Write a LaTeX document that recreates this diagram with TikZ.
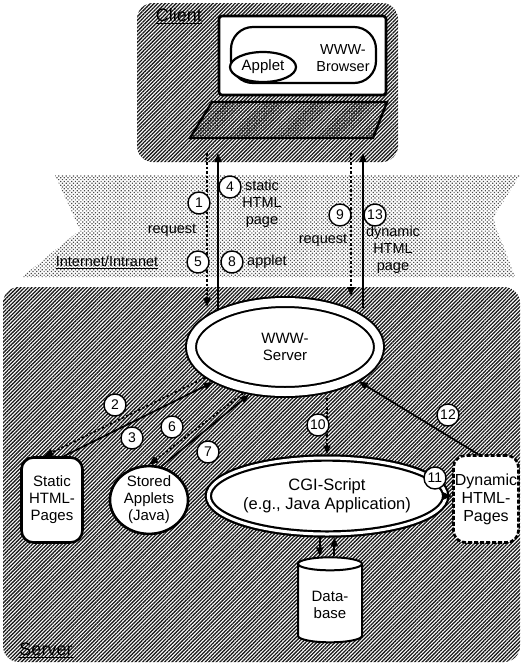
\documentclass[tikz,border=0pt]{standalone}
\usepackage{fontspec}
\setmainfont{Liberation Sans}
\usepackage{tikz}
\usetikzlibrary{
  positioning, shapes.geometric, shapes.misc, patterns.meta, arrows.meta, calc
}
\tikzset{
	hatchbg/.style={pattern={Lines[angle=45,distance=2.6pt,line width=1.3pt]}, pattern color=black!90}
}
\tikzset{
	netdots/.style={pattern={Dots[angle=45,distance=2.6pt,radius=0.85pt]}, pattern color=black!70}
}
\tikzset{
	keydots/.style={pattern={Dots[angle=45,distance=2.4pt,radius=0.75pt]}, pattern color=black!85}
}
\tikzset{
	boxtext/.style={font=\fontsize{15}{17}\selectfont, align=center}
}
\tikzset{
	lbltext/.style={font=\fontsize{14.5}{17}\selectfont, align=center, inner sep=1pt}
}
\tikzset{
	numcirc/.style={circle, draw, line width=1.4pt, fill=white, inner sep=0pt, minimum size=22pt, font=\fontsize{14}{14}\selectfont}
}
\tikzset{
	dblell/.style={ellipse, draw, line width=2pt, double=white, double distance=8pt, fill=white, outer sep=6pt, inner sep=0pt}
}
\tikzset{
	reqline/.style={line width=1.7pt, dash pattern=on 2.5pt off 2pt, -{Triangle[length=9pt,width=7pt]}}
}
\tikzset{
	resline/.style={line width=1.7pt, -{Triangle[length=9pt,width=7pt]}}
}
\newcommand{\uline}[1]{\underline{#1}}

\begin{document}
\begin{tikzpicture}[x=1pt,y=-1pt]
  \useasboundingbox (0,0) rectangle (523,665);
  % areas
  \fill[hatchbg, rounded corners=16pt] (137,3) rectangle (398,162);
  \fill[netdots] (55,175) -- (520,175) -- (493,218) -- (515,277) -- (22,277) -- (80,230) -- cycle;
  \fill[hatchbg, rounded corners=16pt] (3,287) rectangle (520,662);
  \node[lbltext, font=\fontsize{18}{18}\selectfont] (clientlbl) at (179,16) {\uline{Client}};
  \node[lbltext] (netlbl) at (107,262) {\uline{Internet/Intranet}};
  \node[lbltext, font=\fontsize{18}{18}\selectfont] (serverlbl) at (46,650) {\uline{Server}};

  % client machine
  \node[draw, line width=2.6pt, fill=white, rounded corners=3pt, minimum width=167pt, minimum height=79pt] (monitor) at (302.5,55.5) {};
  \node[draw, line width=2.2pt, fill=white, rounded corners=22pt, minimum width=145pt, minimum height=56pt] (browser) at (303.5,55) {};
  \node[ellipse, draw, line width=2.2pt, fill=white, inner sep=0pt, minimum width=66pt, minimum height=30pt, boxtext] (applet) at (263,67) {Applet};
  \node[boxtext, font=\fontsize{14.5}{17}\selectfont] (browserlbl) at (343,58) {WWW-\\Browser};
  \draw[line width=2.4pt, keydots] (212,102) -- (387,102) -- (373,138) -- (190,138) -- cycle;
  \coordinate (cl1) at (207,153);
  \coordinate (cl2) at (218,153);
  \coordinate (cl3) at (351,153);
  \coordinate (cl4) at (363,153);

  % server side
  \node[dblell, minimum width=188pt, minimum height=90pt, boxtext] (wwwserver) at (285,347) {WWW-\\Server};
  \node[boxtext, draw, line width=2.6pt, fill=white, rounded corners=12pt, minimum width=61pt, minimum height=85pt] (static) at (52,500) {Static\\HTML-\\Pages};
  \node[boxtext, ellipse, draw, line width=2.6pt, fill=white, inner sep=0pt, minimum width=78pt, minimum height=64pt] (applets) at (149,500) {Stored\\Applets\\(Java)};
  \node[dblell, line width=2.2pt, double distance=3pt, outer sep=3.5pt, minimum width=183pt, minimum height=76pt, boxtext, font=\fontsize{16.5}{19}\selectfont] (cgi) at (327,496) {CGI-Script\\(e.g., Java Application)};
  \node[boxtext, font=\fontsize{16}{18}\selectfont, draw, line width=2.6pt, dash pattern=on 4pt off 2pt, fill=white, rounded corners=12pt, inner sep=0pt, minimum width=65pt, minimum height=87pt] (dynamic) at (486,499) {Dynamic\\HTML-\\Pages};
  \node[boxtext, cylinder, shape border rotate=90, draw, line width=2pt, fill=white, aspect=0.3, minimum width=64pt, minimum height=85pt] (db) at (330,605) {Data-\\base};

  % client <-> server
  \draw[reqline] (cl1) -- (cl1 |- wwwserver.147);
  \draw[resline] (cl2 |- wwwserver.150) -- (cl2);
  \draw[reqline] (cl3) -- (cl3 |- wwwserver.north);
  \draw[resline] (cl4 |- wwwserver.31) -- (cl4);
  % inside the server
  \draw[reqline] (wwwserver.201) -- (static.100);
  \draw[resline] (static.75) -- (wwwserver.206);
  \draw[reqline] (wwwserver.228) -- (applets.north);
  \draw[resline] (applets.70) -- (wwwserver.233);
  \draw[reqline] (cgi.north |- wwwserver.south) -- (cgi.north);
  \draw[resline] (cgi.east) -- (cgi.east -| dynamic.west);
  \draw[resline] (dynamic.100) -- (wwwserver.335);
  \draw[resline] (cgi.260) -- (cgi.260 |- db.north);
  \draw[resline] (cgi.280 |- db.north) -- (cgi.280);

  % labels
  \node[lbltext] (static page) at (262,204) {static\\HTML\\page};
  \node[lbltext] (req left) at (172,230) {request};
  \node[lbltext] (applet lbl) at (267,262) {applet};
  \node[lbltext] (req right) at (323,240) {request};
  \node[lbltext] (dyn page) at (393,250) {dynamic\\HTML\\page};
  \node[numcirc] (n1) at (199,203) {1};
  \node[numcirc] (n4) at (230,187) {4};
  \node[numcirc] (n5) at (198,262) {5};
  \node[numcirc] (n8) at (232,262) {8};
  \node[numcirc] (n9) at (340,215) {9};
  \node[numcirc] (n13) at (375,215) {13};
  \node[numcirc] (n2) at (115,405) {2};
  \node[numcirc] (n3) at (132,438) {3};
  \node[numcirc] (n6) at (172,427) {6};
  \node[numcirc] (n7) at (208,452) {7};
  \node[numcirc] (n10) at (318,425) {10};
  \node[numcirc] (n11) at (435,478) {11};
  \node[numcirc] (n12) at (448,415) {12};
\end{tikzpicture}
\end{document}
